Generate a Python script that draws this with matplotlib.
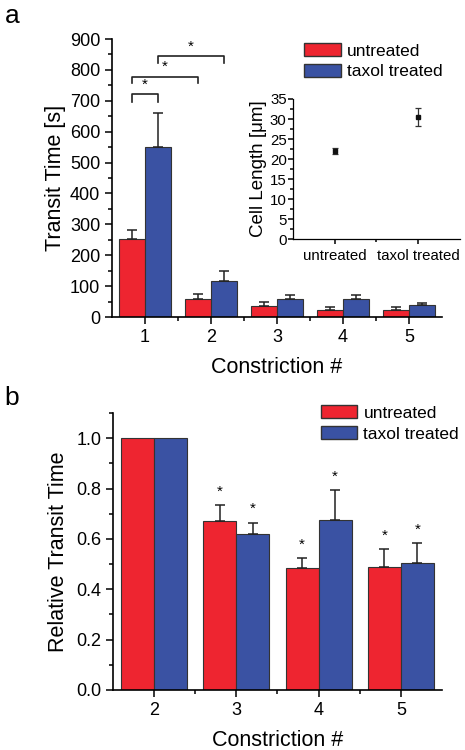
import matplotlib
matplotlib.use("Agg")
import matplotlib.pyplot as plt
import numpy as np
from matplotlib.ticker import MultipleLocator, FixedLocator
from matplotlib.patches import Patch

plt.rcParams['font.family'] = ['Liberation Sans', 'DejaVu Sans']

# ---- data panel a ----
constr_a = [1, 2, 3, 4, 5]
untreated_a = [252, 57, 36, 23, 23]
untreated_a_err = [31, 16, 12, 10, 11]
taxol_a = [550, 117, 57, 57, 38]
taxol_a_err = [112, 33, 15, 15, 9]

# inset
inset_groups = ["untreated", "taxol treated"]
cell_len = [22.0, 30.5]
cell_len_err = [0.8, 2.2]

# ---- data panel b ----
constr_b = [2, 3, 4, 5]
untreated_b = [1.0, 0.67, 0.485, 0.49]
untreated_b_err = [0.0, 0.064, 0.04, 0.068]
taxol_b = [1.0, 0.62, 0.675, 0.505]
taxol_b_err = [0.0, 0.045, 0.12, 0.077]
stars_b_untreated = [False, True, True, True]
stars_b_taxol = [False, True, True, True]

RED = "#EE2530"
BLUE = "#3A52A3"
W = 0.4
TICK_FS = 13

fig = plt.figure(figsize=(4.65, 7.5), dpi=100)


def style_axes(ax, fs=TICK_FS):
    for s in ["top", "right"]:
        ax.spines[s].set_visible(False)
    for s in ["left", "bottom"]:
        ax.spines[s].set_linewidth(1.2)
    ax.tick_params(which="both", direction="out", width=1.1, labelsize=fs)
    ax.tick_params(which="major", length=5)
    ax.tick_params(which="minor", length=3)


def add_legend(ax, anchor):
    ax.legend(handles=[Patch(facecolor=RED, edgecolor="#333333", label="untreated"),
                       Patch(facecolor=BLUE, edgecolor="#333333", label="taxol treated")],
              loc="upper left", bbox_to_anchor=anchor, frameon=False, fontsize=12.5,
              handlelength=2.1, handleheight=0.8, handletextpad=0.35, labelspacing=0.3,
              borderaxespad=0, borderpad=0)


ekw = dict(ecolor="#222222", elinewidth=1.1, capsize=3.5, capthick=1.1, fmt="none")


def bars_with_err(ax, xpos, vals, errs, color):
    ax.bar(xpos, vals, W, color=color, edgecolor="#333333", linewidth=0.8)
    xpos = np.asarray(xpos, dtype=float)
    vals = np.asarray(vals, dtype=float)
    errs = np.asarray(errs, dtype=float)
    m = errs > 0
    ax.errorbar(xpos[m], vals[m], yerr=[np.zeros(m.sum()), errs[m]], **ekw)


# ---------- panel a ----------
axa = fig.add_axes([0.2409, 0.5773, 0.7096, 0.3707])
x = np.array(constr_a, dtype=float)
bars_with_err(axa, x - W / 2, untreated_a, untreated_a_err, RED)
bars_with_err(axa, x + W / 2, taxol_a, taxol_a_err, BLUE)
axa.set_xlim(0.5, 5.5)
axa.set_ylim(0, 900)
axa.set_xticks(constr_a)
axa.xaxis.set_minor_locator(FixedLocator([1.5, 2.5, 3.5, 4.5]))
axa.yaxis.set_major_locator(MultipleLocator(100))
axa.yaxis.set_minor_locator(MultipleLocator(50))
style_axes(axa)
axa.set_ylabel("Transit Time [s]", fontsize=15.5, labelpad=3)
axa.set_xlabel("Constriction #", fontsize=15.5, labelpad=8)

# significance brackets
brackets = [(0.8, 1.2, 722, 695), (0.8, 1.8, 778, 757), (1.2, 2.2, 845, 822)]
for x0, x1, ytop, yleg in brackets:
    axa.plot([x0, x0, x1, x1], [yleg, ytop, ytop, yleg], color="#222222", lw=1.2)
    axa.text((x0 + x1) / 2, ytop + 8, "*", ha="center", va="bottom", fontsize=11)

add_legend(axa, (0.582, 0.986))

fig.text(0.01, 0.995, "a", fontsize=19, ha="left", va="top")

# ---------- inset ----------
axi = fig.add_axes([0.630, 0.6813, 0.359, 0.1867])
xi = np.arange(1, len(inset_groups) + 1)
axi.errorbar(xi, cell_len, yerr=cell_len_err, fmt="s", color="#111111", ms=3,
             ecolor="#333333", elinewidth=0.9, capsize=2.5, capthick=0.9)
axi.set_xlim(0.5, 2.5)
axi.set_ylim(0, 35)
axi.set_xticks(xi)
axi.set_xticklabels(inset_groups)
axi.xaxis.set_minor_locator(FixedLocator([1.5]))
axi.yaxis.set_major_locator(MultipleLocator(5))
axi.yaxis.set_minor_locator(MultipleLocator(2.5))
style_axes(axi, fs=10.8)
axi.tick_params(which="major", length=3.5)
axi.tick_params(which="minor", length=2)
for s in ["left", "bottom"]:
    axi.spines[s].set_linewidth(0.9)
axi.tick_params(axis="y", pad=1)
axi.set_ylabel("Cell Length [μm]", fontsize=13.5, labelpad=2)

# ---------- panel b ----------
axb = fig.add_axes([0.243, 0.08, 0.7075, 0.3693])
xb = np.array(constr_b, dtype=float)
bars_with_err(axb, xb - W / 2, untreated_b, untreated_b_err, RED)
bars_with_err(axb, xb + W / 2, taxol_b, taxol_b_err, BLUE)
for xi_, v, e, s in zip(xb - W / 2, untreated_b, untreated_b_err, stars_b_untreated):
    if s:
        axb.text(xi_, v + e + 0.025, "*", ha="center", va="bottom", fontsize=11)
for xi_, v, e, s in zip(xb + W / 2, taxol_b, taxol_b_err, stars_b_taxol):
    if s:
        axb.text(xi_, v + e + 0.025, "*", ha="center", va="bottom", fontsize=11)
axb.set_xlim(1.5, 5.5)
axb.set_ylim(0, 1.1)
axb.set_xticks(constr_b)
axb.xaxis.set_minor_locator(FixedLocator([2.5, 3.5, 4.5]))
axb.yaxis.set_major_locator(MultipleLocator(0.2))
axb.yaxis.set_minor_locator(MultipleLocator(0.1))
axb.yaxis.set_major_formatter(matplotlib.ticker.FormatStrFormatter("%.1f"))
style_axes(axb)
axb.set_ylabel("Relative Transit Time", fontsize=15.5, labelpad=5)
axb.set_xlabel("Constriction #", fontsize=15.5, labelpad=8)
add_legend(axb, (0.632, 1.029))

fig.text(0.01, 0.485, "b", fontsize=19, ha="left", va="top")

fig.savefig("out.png", dpi=100)
